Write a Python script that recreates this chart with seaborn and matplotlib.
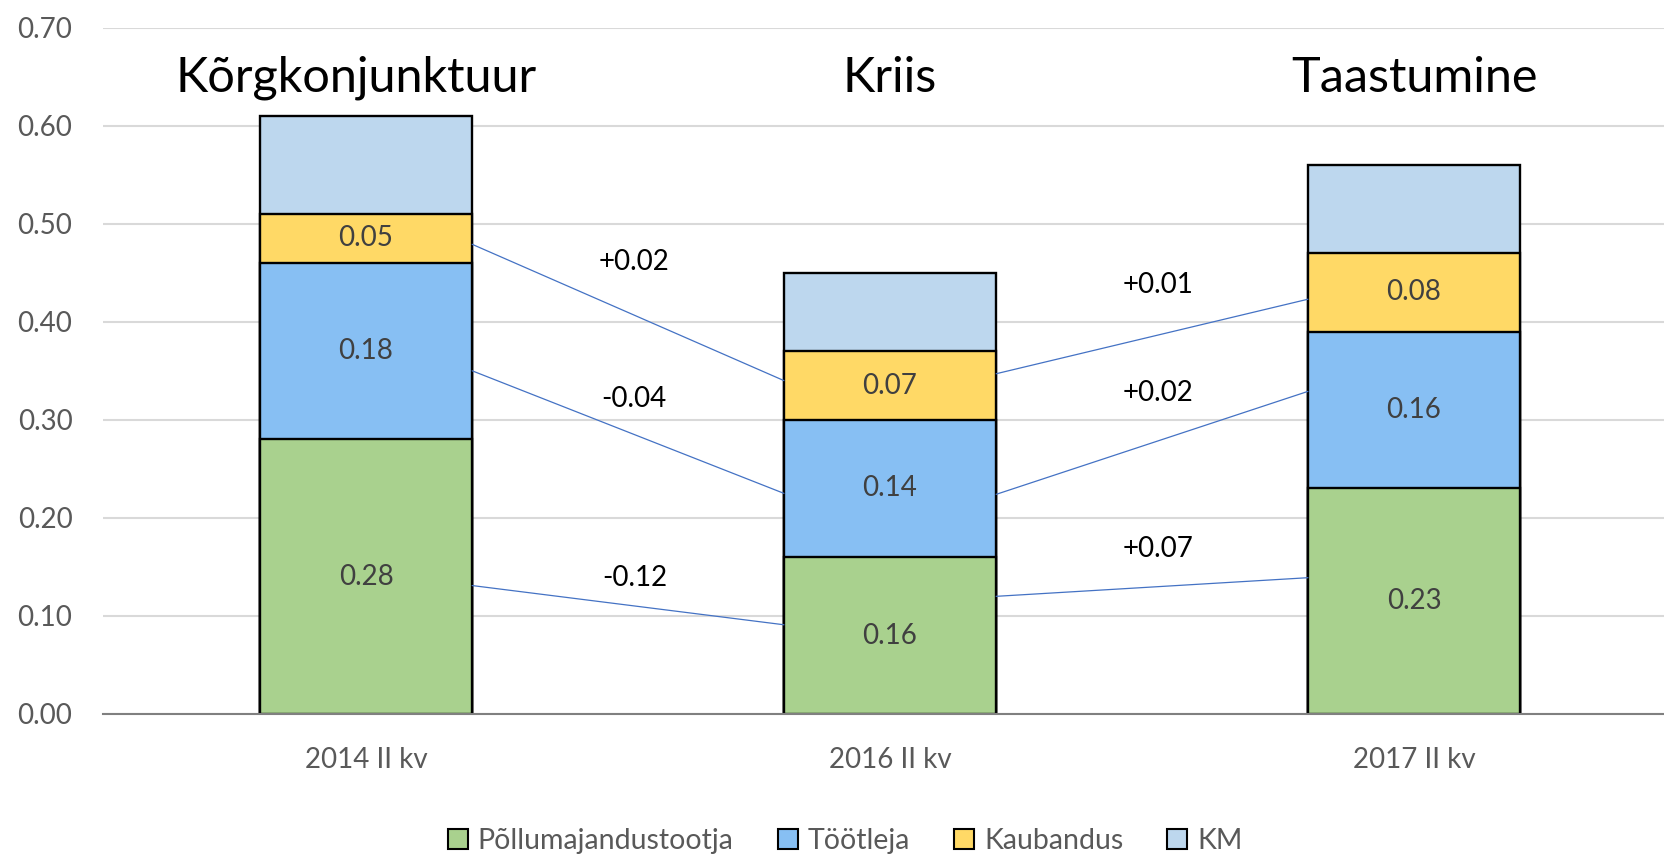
import numpy as np
import pandas as pd
import seaborn as sns
import matplotlib.pyplot as plt
from matplotlib.patches import Patch
from matplotlib.ticker import FuncFormatter

# Data
periods = ["2014 II kv", "2016 II kv", "2017 II kv"]
phases = ["Kõrgkonjunktuur", "Kriis", "Taastumine"]
segments = ["Põllumajandustootja", "Töötleja", "Kaubandus", "KM"]
pollumajandus = [0.28, 0.16, 0.23]
tootleja = [0.18, 0.14, 0.16]
kaubandus = [0.05, 0.07, 0.08]
km = [0.10, 0.08, 0.09]

colors = ["#A9D18E", "#87BFF3", "#FFD966", "#BDD7EE"]

# connector line anchor levels (green, blue, yellow)
conn_left_from = [0.131, 0.350, 0.479]
conn_left_to = [0.091, 0.225, 0.340]
conn_right_from = [0.120, 0.224, 0.347]
conn_right_to = [0.139, 0.329, 0.423]
change_label_y = [[0.139, 0.321, 0.461], [0.168, 0.327, 0.438]]

sns.set_theme(style="white")
plt.rcParams['font.family'] = ['Lato', 'DejaVu Sans']

df = pd.DataFrame({"period": periods,
                   segments[0]: pollumajandus,
                   segments[1]: tootleja,
                   segments[2]: kaubandus,
                   segments[3]: km})
cum = df[segments].cumsum(axis=1)
cum["period"] = periods

fig = plt.figure(figsize=(16.64, 8.57), dpi=100)
ax = fig.add_axes([103/1664, 1-714/857, 1-103/1664, (714-27.6)/857])

bw = 0.405
# stacked bars: draw cumulative totals from the top down
for seg, col in reversed(list(zip(segments, colors))):
    sns.barplot(data=cum, x="period", y=seg, color=col, saturation=1,
                width=bw, edgecolor="black", linewidth=1.7,
                errorbar=None, ax=ax, zorder=3)

# segment value labels (not for KM)
for s, seg in enumerate(segments[:3]):
    for i in range(len(periods)):
        val = df[seg][i]
        y = cum[seg][i] - val / 2
        ax.text(i, y, f"{val:.2f}", ha="center", va="center",
                fontsize=20, color="#404040", zorder=5)

# phase titles
for i, ph in enumerate(phases):
    ax.text(i - (0.02 if i == 0 else 0), 0.649, ph, ha="center", va="center",
            fontsize=35, color="black")

# connectors and change labels
pairs = [(0, conn_left_from, conn_left_to), (1, conn_right_from, conn_right_to)]
for k, (i, y0s, y1s) in enumerate(pairs):
    for s, seg in enumerate(segments[:3]):
        ax.plot([i + bw / 2, i + 1 - bw / 2], [y0s[s], y1s[s]], color="#4472C4",
                lw=0.9, zorder=4)
        d = round(df[seg][i + 1] - df[seg][i], 2)
        ax.text(i + 0.512, change_label_y[k][s], f"{d:+.2f}", ha="center",
                va="center", fontsize=20, color="black")

ax.set_xlim(-0.502, 2.477)
ax.set_ylim(0, 0.7)
ax.set_yticks(np.arange(0, 0.71, 0.1))
ax.yaxis.set_major_formatter(FuncFormatter(lambda v, p: f"{v:.2f}"))
ax.set_xlabel("")
ax.set_ylabel("")
ax.set_axisbelow(True)
ax.yaxis.grid(True, color="#D9D9D9", lw=1.5)
ax.tick_params(axis="y", labelsize=20, labelcolor="#595959", length=0, pad=22)
ax.tick_params(axis="x", labelsize=20, labelcolor="#595959", length=0, pad=24)
for sp in ["left", "right", "top"]:
    ax.spines[sp].set_visible(False)
ax.spines["bottom"].set_color("#808080")
ax.spines["bottom"].set_linewidth(1.5)
ax.spines["bottom"].set_zorder(6)

handles = [Patch(facecolor=c, edgecolor="black", lw=1.5) for c in colors]
leg = fig.legend(handles, segments, loc="center", bbox_to_anchor=(0.508, 1-841/857),
                 ncol=4, frameon=False, fontsize=20.5, handlelength=0.7,
                 handleheight=0.7, handletextpad=0.35, columnspacing=1.55)
for t in leg.get_texts():
    t.set_color("#595959")

fig.savefig("out.png", dpi=100)
